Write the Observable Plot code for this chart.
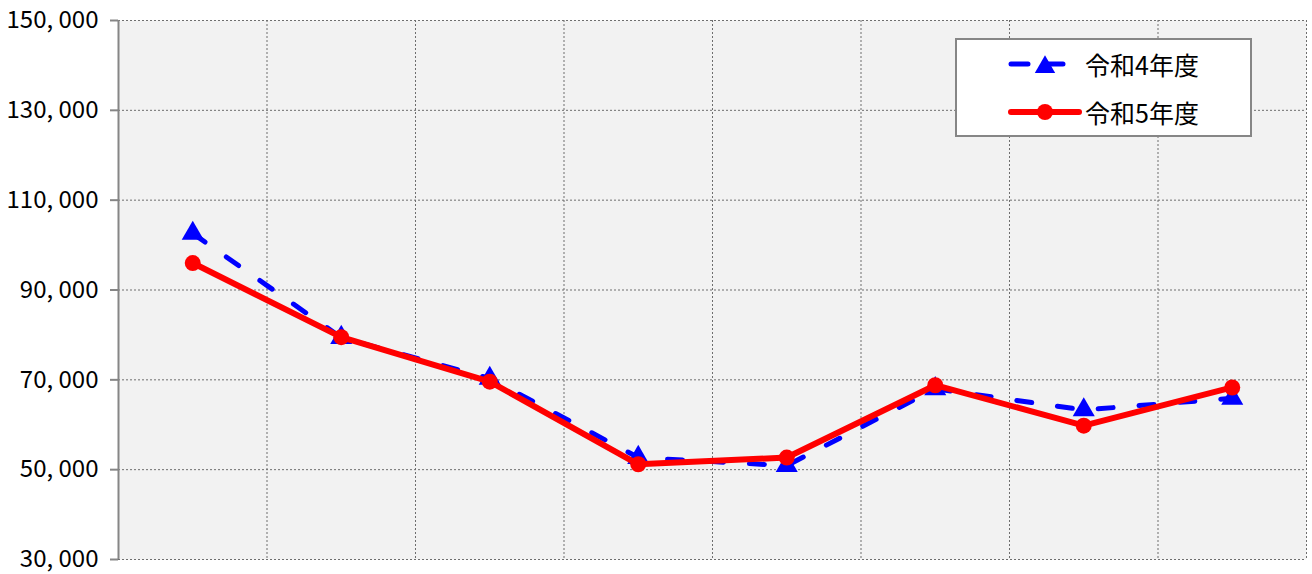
<!DOCTYPE html>
<html>
<head>
<meta charset="utf-8">
<script src="https://cdn.jsdelivr.net/npm/d3@7"></script>
<script src="https://cdn.jsdelivr.net/npm/@observablehq/plot@0.6"></script>
<style>
  html, body { margin: 0; padding: 0; background: #ffffff; }
  #wrap { position: relative; width: 1312px; height: 574px; overflow: hidden; }
  #legend {
    position: absolute; left: 955px; top: 38px; width: 293px; height: 95px;
    background: #ffffff; border: 2px solid #868686;
    font-family: "Noto Sans CJK JP", sans-serif; font-size: 25px; color: #000;
  }
  .item { position: absolute; left: 50px; height: 30px; display: flex; align-items: center; }
  .item svg { margin-right: 2px; }
</style>
</head>
<body>
<div id="wrap">
  <div id="chart"></div>
  <div id="legend"></div>
</div>
<script>
// Categories (x positions 1..8; labels not visible in the reference)
const categories = [1, 2, 3, 4, 5, 6, 7, 8];
const seriesNames = ["令和4年度", "令和5年度"];
const valuesR4 = [102600, 79400, 70300, 52700, 50900, 68000, 63300, 65900];
const valuesR5 = [96000, 79500, 69600, 51200, 52700, 68800, 59800, 68300];
const yTicks = [30000, 50000, 70000, 90000, 110000, 130000, 150000];
const xGrid = [1.5, 2.5, 3.5, 4.5, 5.5, 6.5, 7.5, 8.5];

const r4 = categories.map((c, i) => ({x: c, y: valuesR4[i]}));
const r5 = categories.map((c, i) => ({x: c, y: valuesR5[i]}));

const fmt = d => d3.format(",")(d).replace(",", ", ");
const font = "'Noto Sans CJK JP', sans-serif";

const chart = Plot.plot({
  width: 1312,
  height: 574,
  marginLeft: 118,
  marginRight: 6,
  marginTop: 20,
  marginBottom: 15,
  style: {fontFamily: font, fontSize: "24px", color: "#000", background: "transparent"},
  x: {domain: [0.5, 8.5], axis: null},
  y: {domain: [30000, 150000]},
  marks: [
    Plot.frame({fill: "#f2f2f2", stroke: null}),
    Plot.gridY(yTicks, {stroke: "#6e6e6e", strokeOpacity: 1, strokeDasharray: "2,2", strokeWidth: 1}),
    Plot.ruleX(xGrid, {stroke: "#6e6e6e", strokeDasharray: "2,2", strokeWidth: 1}),
    Plot.ruleX([0.5], {stroke: "#868686", strokeWidth: 2}),
    Plot.axisY(yTicks, {tickFormat: fmt, tickSize: 8, tickPadding: 12, stroke: "#868686", strokeWidth: 2, fontSize: 24, fill: "#000", label: null}),
    Plot.line(r4, {x: "x", y: "y", stroke: "#0000ff", strokeWidth: 5, strokeDasharray: "15,26", strokeLinecap: "round"}),
    Plot.dot(r4, {x: "x", y: "y", symbol: "triangle", r: 8.2, fill: "#0000ff", stroke: null}),
    Plot.line(r5, {x: "x", y: "y", stroke: "#ff0000", strokeWidth: 6, strokeLinecap: "round"}),
    Plot.dot(r5, {x: "x", y: "y", symbol: "circle", r: 8, fill: "#ff0000", stroke: null})
  ]
});
document.getElementById("chart").appendChild(chart);

// Legend
const legend = document.getElementById("legend");
const styles = [
  {color: "#0000ff", dash: true, width: 5, symbol: d3.symbolTriangle, size: 180, offset: 3},
  {color: "#ff0000", dash: false, width: 6, symbol: d3.symbolCircle, size: 201, offset: 0}
];
seriesNames.forEach((name, i) => {
  const s = styles[i];
  const item = document.createElement("div");
  item.className = "item";
  item.style.top = (i === 0 ? 9 : 57) + "px";
  const svg = d3.create("svg").attr("width", 76).attr("height", 30);
  svg.append("line").attr("x1", 4).attr("x2", 72).attr("y1", 15).attr("y2", 15)
    .attr("stroke", s.color).attr("stroke-width", s.width).attr("stroke-linecap", "round")
    .attr("stroke-dasharray", s.dash ? "17,18" : null);
  svg.append("path").attr("d", d3.symbol(s.symbol, s.size)())
    .attr("transform", `translate(38,${15 + s.offset})`).attr("fill", s.color);
  item.appendChild(svg.node());
  const t = document.createElement("span");
  t.textContent = name;
  item.appendChild(t);
  legend.appendChild(item);
});
</script>
</body>
</html>
